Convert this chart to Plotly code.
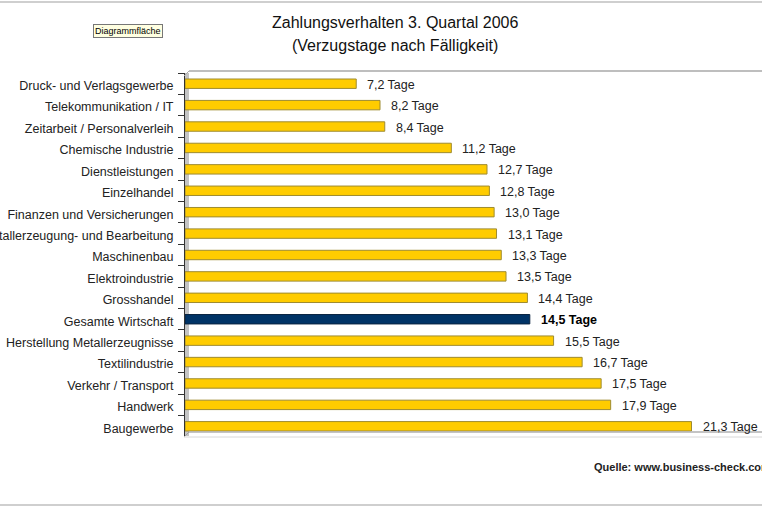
import plotly.graph_objects as go

categories = [
    "Druck- und Verlagsgewerbe", "Telekommunikation / IT", "Zeitarbeit / Personalverleih",
    "Chemische Industrie", "Dienstleistungen", "Einzelhandel", "Finanzen und Versicherungen",
    "Metallerzeugung- und Bearbeitung", "Maschinenbau", "Elektroindustrie", "Grosshandel",
    "Gesamte Wirtschaft", "Herstellung Metallerzeugnisse", "Textilindustrie",
    "Verkehr / Transport", "Handwerk", "Baugewerbe",
]
values = [7.2, 8.2, 8.4, 11.2, 12.7, 12.8, 13.0, 13.1, 13.3, 13.5, 14.4, 14.5, 15.5, 16.7, 17.5, 17.9, 21.3]
highlight = "Gesamte Wirtschaft"

title_lines = ["Zahlungsverhalten 3. Quartal 2006", "(Verzugstage nach Fälligkeit)"]
source_text = "Quelle: www.business-check.com"

FONT = "Liberation Sans, Arial, sans-serif"
W, H = 762, 508
ML, MR, MT, MB = 185, 0, 73, 71
PW = W - ML - MR
PH = H - MT - MB

def px_x(px):
    return (px - ML) / PW

def px_y(py):
    return (H - MB - py) / PH

fill = ["#003366" if c == highlight else "#FFCC00" for c in categories]
edge = ["#0A2440" if c == highlight else "#9E8B30" for c in categories]

fig = go.Figure()
fig.add_trace(go.Bar(
    x=values, y=categories, orientation="h", width=0.44,
    marker=dict(color=fill, line=dict(color=edge, width=1)),
    hoverinfo="skip",
))

annotations = []
for c, v in zip(categories, values):
    txt = f"{v:.1f}".replace(".", ",") + " Tage"
    bold = c == highlight
    annotations.append(dict(
        x=v, y=c, xref="x", yref="y", text=f"<b>{txt}</b>" if bold else txt,
        showarrow=False, xanchor="left", yanchor="middle", xshift=9, yshift=-1,
        font=dict(family=FONT, size=12.5, color="#000" if bold else "#222"),
    ))

annotations.append(dict(x=px_x(395), y=1, xref="paper", yref="paper", xanchor="center",
                        yanchor="middle", yshift=51, text=title_lines[0], showarrow=False,
                        font=dict(family=FONT, size=16, color="#111")))
annotations.append(dict(x=px_x(395), y=1, xref="paper", yref="paper", xanchor="center",
                        yanchor="middle", yshift=28, text=title_lines[1], showarrow=False,
                        font=dict(family=FONT, size=16, color="#111")))
annotations.append(dict(x=px_x(128), y=1, xref="paper", yref="paper", xanchor="center",
                        yanchor="middle", yshift=42, text="Diagrammfläche", showarrow=False,
                        bgcolor="#FFFFE1", bordercolor="#777", borderwidth=1, borderpad=1,
                        font=dict(family=FONT, size=9, color="#000")))
annotations.append(dict(x=px_x(592), y=0, xref="paper", yref="paper", xanchor="left",
                        yanchor="middle", yshift=-30, text=f"<b>{source_text}</b>",
                        showarrow=False, font=dict(family=FONT, size=11, color="#222")))

shapes = [
    # grey wall
    dict(type="rect", xref="paper", yref="paper", x0=px_x(184), x1=px_x(189),
         y0=px_y(436), y1=px_y(73), fillcolor="#C4C4C4", line=dict(width=0), layer="below"),
    # top edge of plot back
    dict(type="line", xref="paper", yref="paper", x0=px_x(189), x1=1, y0=px_y(71), y1=px_y(71),
         line=dict(color="#A8A8A8", width=1.5)),
    dict(type="line", xref="paper", yref="paper", x0=px_x(184), x1=px_x(189), y0=px_y(76), y1=px_y(71),
         line=dict(color="#A8A8A8", width=1)),
    # floor
    dict(type="line", xref="paper", yref="paper", x0=px_x(189), x1=1, y0=px_y(432), y1=px_y(432),
         line=dict(color="#B0B0B0", width=1.5)),
    dict(type="line", xref="paper", yref="paper", x0=px_x(184), x1=px_x(189), y0=px_y(437), y1=px_y(432),
         line=dict(color="#A0A0A0", width=1)),
    dict(type="line", xref="paper", yref="paper", x0=px_x(184), x1=1, y0=px_y(437), y1=px_y(437),
         line=dict(color="#D8D8D8", width=1)),
    # outer frame lines
    dict(type="line", xref="paper", yref="paper", x0=px_x(0), x1=1, y0=px_y(2), y1=px_y(2),
         line=dict(color="#CFCFCF", width=2)),
    dict(type="line", xref="paper", yref="paper", x0=px_x(0), x1=1, y0=px_y(505), y1=px_y(505),
         line=dict(color="#CFCFCF", width=2)),
]

fig.update_layout(
    width=W, height=H,
    margin=dict(l=ML, r=MR, t=MT, b=MB, pad=0, autoexpand=False),
    paper_bgcolor="white", plot_bgcolor="rgba(0,0,0,0)",
    showlegend=False, bargap=0.5,
    annotations=annotations, shapes=shapes,
    xaxis=dict(range=[0, PW / 23.78], showgrid=False, zeroline=False, showticklabels=False,
               showline=False, ticks="", fixedrange=True, automargin=False),
    yaxis=dict(autorange="reversed", showgrid=False, showline=True, linecolor="#333", linewidth=1,
               ticks="outside", tickson="boundaries", ticklen=6, tickcolor="#333",
               ticklabelstandoff=8, ticklabelshift=-2, automargin=False,
               tickfont=dict(family=FONT, size=12.5, color="#222"), fixedrange=True),
)

fig.write_html("out.html", config={"displayModeBar": False})
